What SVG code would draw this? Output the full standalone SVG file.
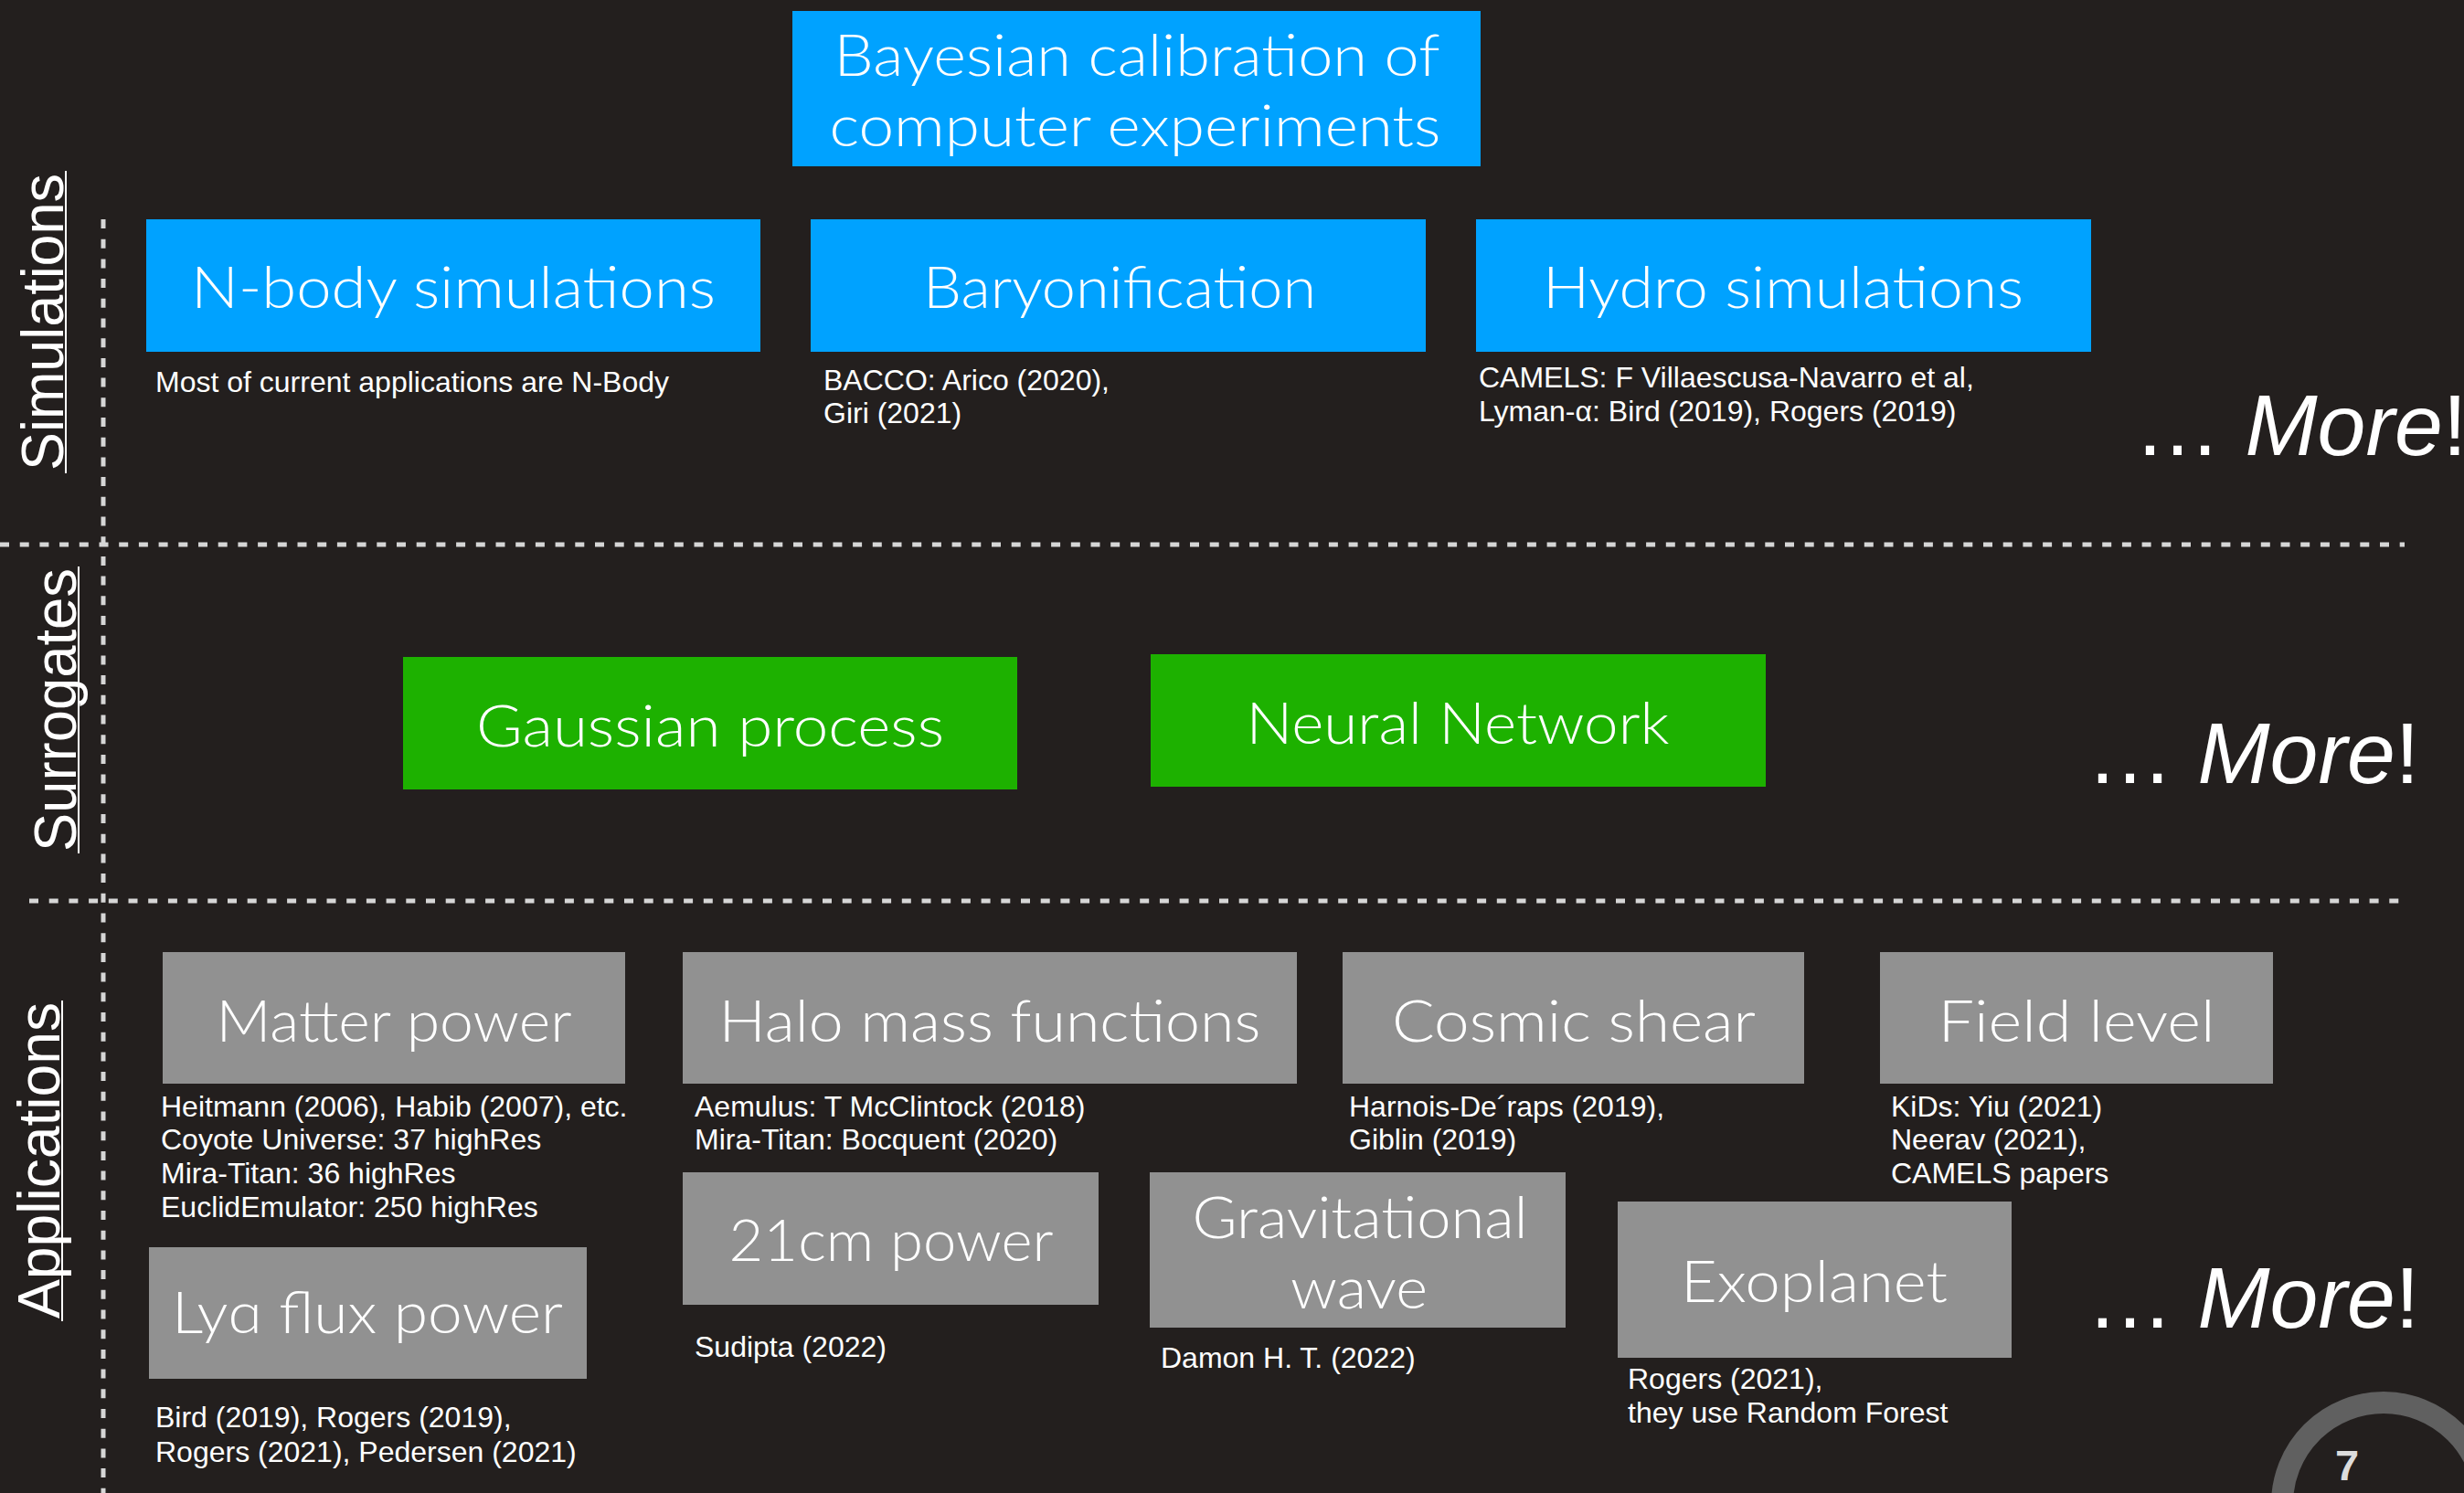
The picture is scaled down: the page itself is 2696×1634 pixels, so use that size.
<svg xmlns="http://www.w3.org/2000/svg" width="2696" height="1634" viewBox="0 0 2696 1634">
<defs>
<style>
.bg{fill:#231f1e}
.blue{fill:#00a2ff}
.green{fill:#1db100}
.gray{fill:#919191}
.bt{font-family:"Lato","Open Sans","Noto Sans",sans-serif;font-weight:300;font-size:64px;fill:#ffffff;text-anchor:middle}
.cap{font-family:"Liberation Sans",Arial,sans-serif;font-size:32px;fill:#ffffff}
.side{font-family:"Liberation Sans",Arial,sans-serif;font-size:65px;fill:#ffffff}
.more{font-family:"Liberation Sans",Arial,sans-serif;font-size:95px;fill:#ffffff}
.ul{stroke:#ffffff;stroke-width:2}
.hdash{stroke:#d6d6d6;stroke-width:5;stroke-dasharray:10 11.7;fill:none}
.vdash{stroke:#d6d6d6;stroke-width:5;stroke-dasharray:10 11.7;fill:none}
</style>
</defs>
<rect class="bg" x="0" y="0" width="2696" height="1634"/>

<g id="connectors">
<line class="hdash" x1="0" y1="596" x2="2631" y2="596"/>
<line class="hdash" x1="32" y1="986" x2="2636" y2="986"/>
<line class="vdash" x1="113" y1="240" x2="113" y2="1634"/>
</g>

<g id="label-simulations">
<text class="side" transform="translate(69,515) rotate(-90)" textLength="325" lengthAdjust="spacingAndGlyphs">Simulations</text>
<line class="ul" x1="72" y1="187" x2="72" y2="518"/>
</g>
<g id="label-surrogates">
<text class="side" transform="translate(83,932) rotate(-90)" textLength="310" lengthAdjust="spacingAndGlyphs">Surrogates</text>
<line class="ul" x1="86" y1="620" x2="86" y2="934"/>
</g>
<g id="label-applications">
<text class="side" transform="translate(65,1443) rotate(-90)" textLength="346" lengthAdjust="spacingAndGlyphs">Applications</text>
<line class="ul" x1="68" y1="1095" x2="68" y2="1446"/>
</g>

<g id="bayesian">
<rect class="blue" x="867" y="12" width="753" height="170"/>
<text class="bt" x="1244" y="83" textLength="663" lengthAdjust="spacingAndGlyphs">Bayesian calibration of</text>
<text class="bt" x="1242" y="160" textLength="669" lengthAdjust="spacingAndGlyphs">computer experiments</text>
</g>

<g id="nbody">
<rect class="blue" x="160" y="240" width="672" height="145"/>
<text class="bt" x="496" y="337" textLength="574" lengthAdjust="spacingAndGlyphs">N-body simulations</text>
<text class="cap" x="170" y="429">Most of current applications are N-Body</text>
</g>

<g id="baryonification">
<rect class="blue" x="887" y="240" width="673" height="145"/>
<text class="bt" x="1225" y="337" textLength="430" lengthAdjust="spacingAndGlyphs">Baryonification</text>
<text class="cap" x="901" y="427">BACCO: Arico (2020),</text>
<text class="cap" x="901" y="463">Giri (2021)</text>
</g>

<g id="hydro">
<rect class="blue" x="1615" y="240" width="673" height="145"/>
<text class="bt" x="1951" y="337" textLength="526" lengthAdjust="spacingAndGlyphs">Hydro simulations</text>
<text class="cap" x="1618" y="424">CAMELS: F Villaescusa-Navarro et al,</text>
<text class="cap" x="1618" y="461">Lyman-α: Bird (2019), Rogers (2019)</text>
</g>

<g id="more-sim">
<text class="more" x="2335" y="498">… <tspan font-style="italic">More</tspan>!</text>
</g>

<g id="gaussian">
<rect class="green" x="441" y="719" width="672" height="145"/>
<text class="bt" x="777" y="817" textLength="512" lengthAdjust="spacingAndGlyphs">Gaussian process</text>
</g>

<g id="neural">
<rect class="green" x="1259" y="716" width="673" height="145"/>
<text class="bt" x="1595" y="814" textLength="463" lengthAdjust="spacingAndGlyphs">Neural Network</text>
</g>

<g id="more-sur">
<text class="more" x="2283" y="857">… <tspan font-style="italic">More</tspan>!</text>
</g>

<g id="matter">
<rect class="gray" x="178" y="1042" width="506" height="144"/>
<text class="bt" x="431" y="1140" textLength="389" lengthAdjust="spacingAndGlyphs">Matter power</text>
<text class="cap" x="176" y="1222">Heitmann (2006), Habib (2007), etc.</text>
<text class="cap" x="176" y="1258">Coyote Universe: 37 highRes</text>
<text class="cap" x="176" y="1295">Mira-Titan: 36 highRes</text>
<text class="cap" x="176" y="1332">EuclidEmulator: 250 highRes</text>
</g>

<g id="halo">
<rect class="gray" x="747" y="1042" width="672" height="144"/>
<text class="bt" x="1083" y="1140" textLength="593" lengthAdjust="spacingAndGlyphs">Halo mass functions</text>
<text class="cap" x="760" y="1222">Aemulus: T McClintock (2018)</text>
<text class="cap" x="760" y="1258">Mira-Titan: Bocquent (2020)</text>
</g>

<g id="cosmic">
<rect class="gray" x="1469" y="1042" width="505" height="144"/>
<text class="bt" x="1722" y="1140" textLength="398" lengthAdjust="spacingAndGlyphs">Cosmic shear</text>
<text class="cap" x="1476" y="1222">Harnois-De´raps (2019),</text>
<text class="cap" x="1476" y="1258">Giblin (2019)</text>
</g>

<g id="field">
<rect class="gray" x="2057" y="1042" width="430" height="144"/>
<text class="bt" x="2272" y="1140" textLength="303" lengthAdjust="spacingAndGlyphs">Field level</text>
<text class="cap" x="2069" y="1222">KiDs: Yiu (2021)</text>
<text class="cap" x="2069" y="1258">Neerav (2021),</text>
<text class="cap" x="2069" y="1295">CAMELS papers</text>
</g>

<g id="lya">
<rect class="gray" x="163" y="1365" width="479" height="144"/>
<text class="bt" x="402" y="1459" textLength="428" lengthAdjust="spacingAndGlyphs">Lyɑ flux power</text>
<text class="cap" x="170" y="1562">Bird (2019), Rogers (2019),</text>
<text class="cap" x="170" y="1600">Rogers (2021), Pedersen (2021)</text>
</g>

<g id="cm21">
<rect class="gray" x="747" y="1283" width="455" height="145"/>
<text class="bt" x="975" y="1380" textLength="355" lengthAdjust="spacingAndGlyphs">21cm power</text>
<text class="cap" x="760" y="1485">Sudipta (2022)</text>
</g>

<g id="gravitational">
<rect class="gray" x="1258" y="1283" width="455" height="170"/>
<text class="bt" x="1488" y="1355" textLength="367" lengthAdjust="spacingAndGlyphs">Gravitational</text>
<text class="bt" x="1487" y="1432" textLength="150" lengthAdjust="spacingAndGlyphs">wave</text>
<text class="cap" x="1270" y="1497">Damon H. T. (2022)</text>
</g>

<g id="exoplanet">
<rect class="gray" x="1770" y="1315" width="431" height="171"/>
<text class="bt" x="1985" y="1425" textLength="292" lengthAdjust="spacingAndGlyphs">Exoplanet</text>
<text class="cap" x="1781" y="1520">Rogers (2021),</text>
<text class="cap" x="1781" y="1557">they use Random Forest</text>
</g>

<g id="more-app">
<text class="more" x="2283" y="1453">… <tspan font-style="italic">More</tspan>!</text>
</g>

<g id="page-number">
<circle cx="2608" cy="1646" r="111" fill="none" stroke="#606060" stroke-width="24"/>
<text x="2568" y="1620" font-family="Liberation Sans, Arial, sans-serif" font-weight="bold" font-size="47" fill="#dcdcdc" text-anchor="middle">7</text>
</g>
</svg>
